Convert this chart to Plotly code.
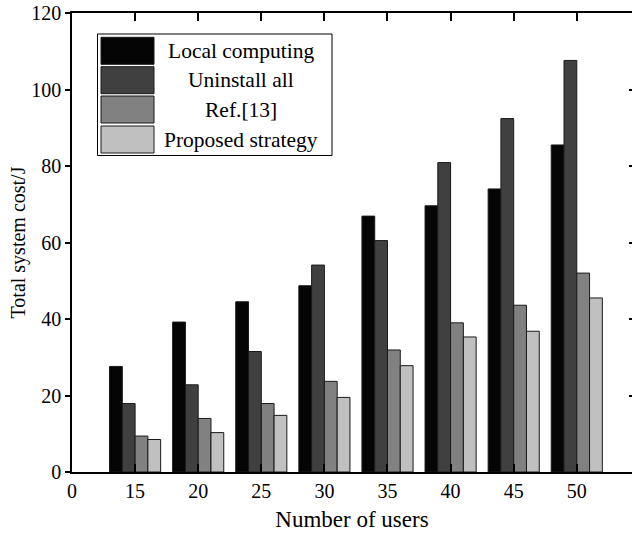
import plotly.graph_objects as go

# ---- data ----
categories = ["0", "15", "20", "25", "30", "35", "40", "45", "50"]
users = ["15", "20", "25", "30", "35", "40", "45", "50"]
local_computing = [27.6, 39.2, 44.5, 48.7, 66.9, 69.6, 74.0, 85.5]
uninstall_all = [17.9, 22.8, 31.5, 54.1, 60.5, 80.9, 92.4, 107.6]
ref13 = [9.4, 14.0, 17.9, 23.7, 31.9, 39.0, 43.6, 52.0]
proposed = [8.5, 10.3, 14.8, 19.5, 27.8, 35.3, 36.8, 45.5]
series_names = ["Local computing", "Uninstall all", "Ref.[13]", "Proposed strategy"]
series_values = [local_computing, uninstall_all, ref13, proposed]
colors = ["#050505", "#404040", "#818181", "#c0c0c0"]
y_ticks = [0, 20, 40, 60, 80, 100, 120]

FONT = "Liberation Serif, Times New Roman, serif"

fig = go.Figure()
for name, vals, col in zip(series_names, series_values, colors):
    fig.add_trace(go.Bar(
        x=users, y=vals, name=name,
        marker=dict(color=col, line=dict(color="#1a1a1a", width=1)),
        showlegend=False,
    ))

# invisible trace to host the mirrored right-hand ticks
fig.add_trace(go.Scatter(x=[users[0]], y=[0], yaxis="y2", mode="markers",
                         marker=dict(opacity=0), showlegend=False, hoverinfo="skip"))

W, H = 632, 538
ml, mr, mt, mb = 72, 0, 13, 66

fig.update_layout(
    width=W, height=H,
    margin=dict(l=ml, r=mr, t=mt, b=mb),
    paper_bgcolor="white", plot_bgcolor="white",
    barmode="group", bargap=0.19, bargroupgap=0,
    font=dict(family=FONT, size=20, color="black"),
    xaxis=dict(
        type="category", categoryorder="array", categoryarray=categories,
        tickmode="array", tickvals=categories, ticktext=categories,
        range=[0, 8.875],
        showline=True, linecolor="black", linewidth=1.5, mirror="ticks",
        ticks="inside", ticklen=8, tickwidth=1.5, tickcolor="black",
        showgrid=False, zeroline=False,
        title=dict(text="Number of users", font=dict(size=23), standoff=10),
    ),
    yaxis=dict(
        range=[0, 120], tickvals=y_ticks,
        showline=True, linecolor="black", linewidth=1.5,
        ticks="outside", ticklen=5, tickwidth=1.5, tickcolor="black",
        showgrid=False, zeroline=False,
        title=dict(text="Total system cost/J", font=dict(size=20), standoff=0),
    ),
    yaxis2=dict(
        overlaying="y", side="right", range=[0, 120], tickvals=y_ticks,
        showline=False, showticklabels=False, showgrid=False, zeroline=False,
        ticks="inside", ticklen=3, tickwidth=1.5, tickcolor="black",
    ),
)

# ---- custom legend (large swatches, as in the reference) ----
pw = W - ml - mr
ph = H - mt - mb

def px_x(px):
    return (px - ml) / pw

def px_y(py):
    return (H - mb - py) / ph

fig.add_shape(type="rect", xref="paper", yref="paper",
              x0=px_x(97.5), x1=px_x(332), y0=px_y(155.5), y1=px_y(34),
              line=dict(color="black", width=1), fillcolor="white", layer="above")
row_top = [37.3, 66.7, 96.0, 126.0]
row_h = 27.0
for name, col, top in zip(series_names, colors, row_top):
    fig.add_shape(type="rect", xref="paper", yref="paper",
                  x0=px_x(101), x1=px_x(154), y0=px_y(top + row_h), y1=px_y(top),
                  line=dict(color="#1a1a1a", width=1), fillcolor=col, layer="above")
    fig.add_annotation(xref="paper", yref="paper", x=px_x(241), y=px_y(top + row_h / 2),
                       text=name, showarrow=False, xanchor="center", yanchor="middle",
                       font=dict(family=FONT, size=21.5, color="black"))

fig.write_html("out.html", config={"displayModeBar": False},
               post_script="document.body.style.margin='0';")
